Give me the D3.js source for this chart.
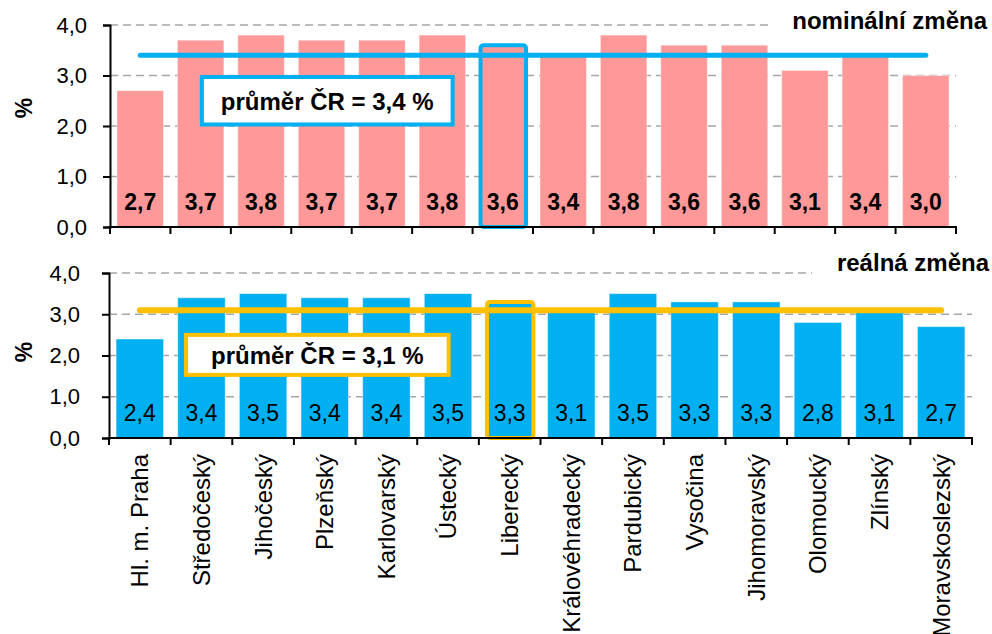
<!DOCTYPE html>
<meta charset="utf-8">
<style>
  body { margin: 0; background: #fff; }
  text { font-family: "Liberation Sans", Arial, sans-serif; }
</style>
<body>
<script src="https://d3js.org/d3.v7.min.js"></script>
<script>
var categories = ["Hl. m. Praha", "Středočeský", "Jihočeský", "Plzeňský", "Karlovarský", "Ústecký",
                  "Liberecký", "Královéhradecký", "Pardubický", "Vysočina", "Jihomoravský",
                  "Olomoucký", "Zlínský", "Moravskoslezský"];
var nominal = [2.7, 3.7, 3.8, 3.7, 3.7, 3.8, 3.6, 3.4, 3.8, 3.6, 3.6, 3.1, 3.4, 3.0];
var real    = [2.4, 3.4, 3.5, 3.4, 3.4, 3.5, 3.3, 3.1, 3.5, 3.3, 3.3, 2.8, 3.1, 2.7];
var avgNominal = 3.4, avgReal = 3.1;
var yTicks = [0, 1, 2, 3, 4];
var highlight = "Liberecký";

var fmt = function(v) { return v.toFixed(1).replace(".", ","); };

var svg = d3.select("body").append("svg")
    .attr("width", 992)
    .attr("height", 634);

// one panel = bars + average line + boxes
function panel(o) {
  var x = d3.scaleBand().domain(categories).range([o.left, o.right]).paddingInner(0.23).paddingOuter(0.115);
  var y = d3.scaleLinear().domain([0, 4]).range([o.bottom, o.top]);
  var g = svg.append("g");
  var data = categories.map(function(c, i) { return {cat: c, v: o.values[i]}; });

  // gridlines
  g.selectAll(".grid").data(yTicks.slice(1)).enter().append("line")
      .attr("x1", o.left).attr("x2", o.right)
      .attr("y1", function(d) { return y(d); }).attr("y2", function(d) { return y(d); })
      .attr("stroke", "#a6a6a6").attr("stroke-width", 1.5).attr("stroke-dasharray", "8,5");

  // title with white background over the gridline
  var title = g.append("text")
      .attr("x", o.titleX).attr("y", o.titleY)
      .attr("text-anchor", "end")
      .style("font-size", "24px").style("font-weight", "bold")
      .text(o.title);
  var bb = title.node().getBBox();
  g.insert("rect", "text").attr("x", bb.x - o.titlePad).attr("y", bb.y)
      .attr("width", bb.width + o.titlePad + 5).attr("height", bb.height).attr("fill", "#fff");

  // bars
  g.selectAll(".bar").data(data).enter().append("rect")
      .attr("x", function(d) { return x(d.cat); })
      .attr("width", x.bandwidth())
      .attr("y", function(d) { return y(d.v); })
      .attr("height", function(d) { return y(0) - y(d.v); })
      .attr("fill", o.color)
      .attr("stroke", "#fff").attr("stroke-opacity", 0.45).attr("stroke-width", 1);

  // value labels
  g.selectAll(".val").data(data).enter().append("text")
      .attr("x", function(d) { return x(d.cat) + x.bandwidth() / 2; })
      .attr("y", y(0) - 17)
      .attr("text-anchor", "middle")
      .style("font-size", "23px").style("font-weight", o.valueWeight)
      .text(function(d) { return fmt(d.v); });

  // highlighted region
  var h = data[categories.indexOf(highlight)];
  g.append("rect")
      .attr("x", x(h.cat) + 1).attr("width", x.bandwidth() - 1)
      .attr("y", y(h.v)).attr("height", y(0) - y(h.v))
      .attr("rx", 3)
      .attr("fill", "none").attr("stroke", o.lineColor).attr("stroke-width", 4);

  // average line
  var line = d3.line()
      .x(function(d) { return x(d.cat) + x.bandwidth() / 2; })
      .y(function(d) { return y(d.v); });
  g.append("path")
      .datum(categories.map(function(c) { return {cat: c, v: o.avg}; }))
      .attr("d", line)
      .attr("fill", "none").attr("stroke", o.lineColor)
      .attr("stroke-width", o.lineWidth).attr("stroke-linecap", "round");

  // average label box
  var bx0 = o.left + o.boxSteps[0] * x.step(), bx1 = o.left + o.boxSteps[1] * x.step();
  var by0 = y(o.boxVals[0]), by1 = y(o.boxVals[1]);
  g.append("rect")
      .attr("x", bx0).attr("y", by0).attr("width", bx1 - bx0).attr("height", by1 - by0)
      .attr("fill", "#fff").attr("stroke", o.lineColor).attr("stroke-width", 4);
  g.append("text")
      .attr("x", (bx0 + bx1) / 2).attr("y", (by0 + by1) / 2)
      .attr("dy", "0.37em")
      .attr("text-anchor", "middle")
      .style("font-size", "24px").style("font-weight", "bold")
      .text("průměr ČR = " + fmt(o.avg) + " %");

  // axes
  var yAxis = d3.axisLeft(y).tickValues(yTicks).tickFormat(fmt).tickSize(7).tickPadding(o.tickPad);
  var ya = g.append("g").attr("transform", "translate(" + o.left + ",0)").call(yAxis);
  ya.selectAll("path, line").attr("stroke", "#000").attr("stroke-width", 2);
  ya.selectAll("text").style("font-size", "22px").attr("fill", "#000")
      .attr("font-family", "'Liberation Sans', Arial, sans-serif");

  g.append("line")
      .attr("x1", o.left - 1).attr("x2", o.right + 1)
      .attr("y1", y(0)).attr("y2", y(0))
      .attr("stroke", "#000").attr("stroke-width", 2);
  g.selectAll(".xtick").data(d3.range(categories.length + 1)).enter().append("line")
      .attr("x1", function(i) { return o.left + i * x.step(); })
      .attr("x2", function(i) { return o.left + i * x.step(); })
      .attr("y1", y(0)).attr("y2", y(0) + 7)
      .attr("stroke", "#000").attr("stroke-width", 2);

  // % axis title
  g.append("text")
      .attr("transform", "translate(" + o.pctX + "," + o.pctY + ") rotate(-90)")
      .attr("text-anchor", "middle").attr("dy", "0.35em")
      .style("font-size", "23px").style("font-weight", "bold")
      .text("%");

  return x;
}

panel({
  left: 110, right: 956, top: 25, bottom: 227,
  values: nominal, avg: avgNominal, color: "#ff9999", lineColor: "#00b0f0", lineWidth: 5,
  title: "nominální změna", titleX: 987, titleY: 29, titlePad: 20,
  valueWeight: "bold", tickPad: 16,
  boxSteps: [1.52, 5.67], boxVals: [2.97, 2.03],
  pctX: 24, pctY: 108
});

var xb = panel({
  left: 109, right: 972, top: 273, bottom: 438,
  values: real, avg: avgReal, color: "#00b0f0", lineColor: "#ffc000", lineWidth: 6,
  title: "reálná změna", titleX: 989, titleY: 271, titlePad: 25,
  valueWeight: "normal", tickPad: 22,
  boxSteps: [1.25, 5.51], boxVals: [2.5, 1.53],
  pctX: 24, pctY: 352
});

// category labels under the lower panel
svg.append("g").selectAll("text").data(categories).enter().append("text")
    .attr("transform", function(d) {
      return "translate(" + (xb(d) + xb.bandwidth() / 2) + ",454) rotate(-90)";
    })
    .attr("text-anchor", "end")
    .attr("dy", "0.35em")
    .style("font-size", "24px")
    .text(function(d) { return d; });
</script>
